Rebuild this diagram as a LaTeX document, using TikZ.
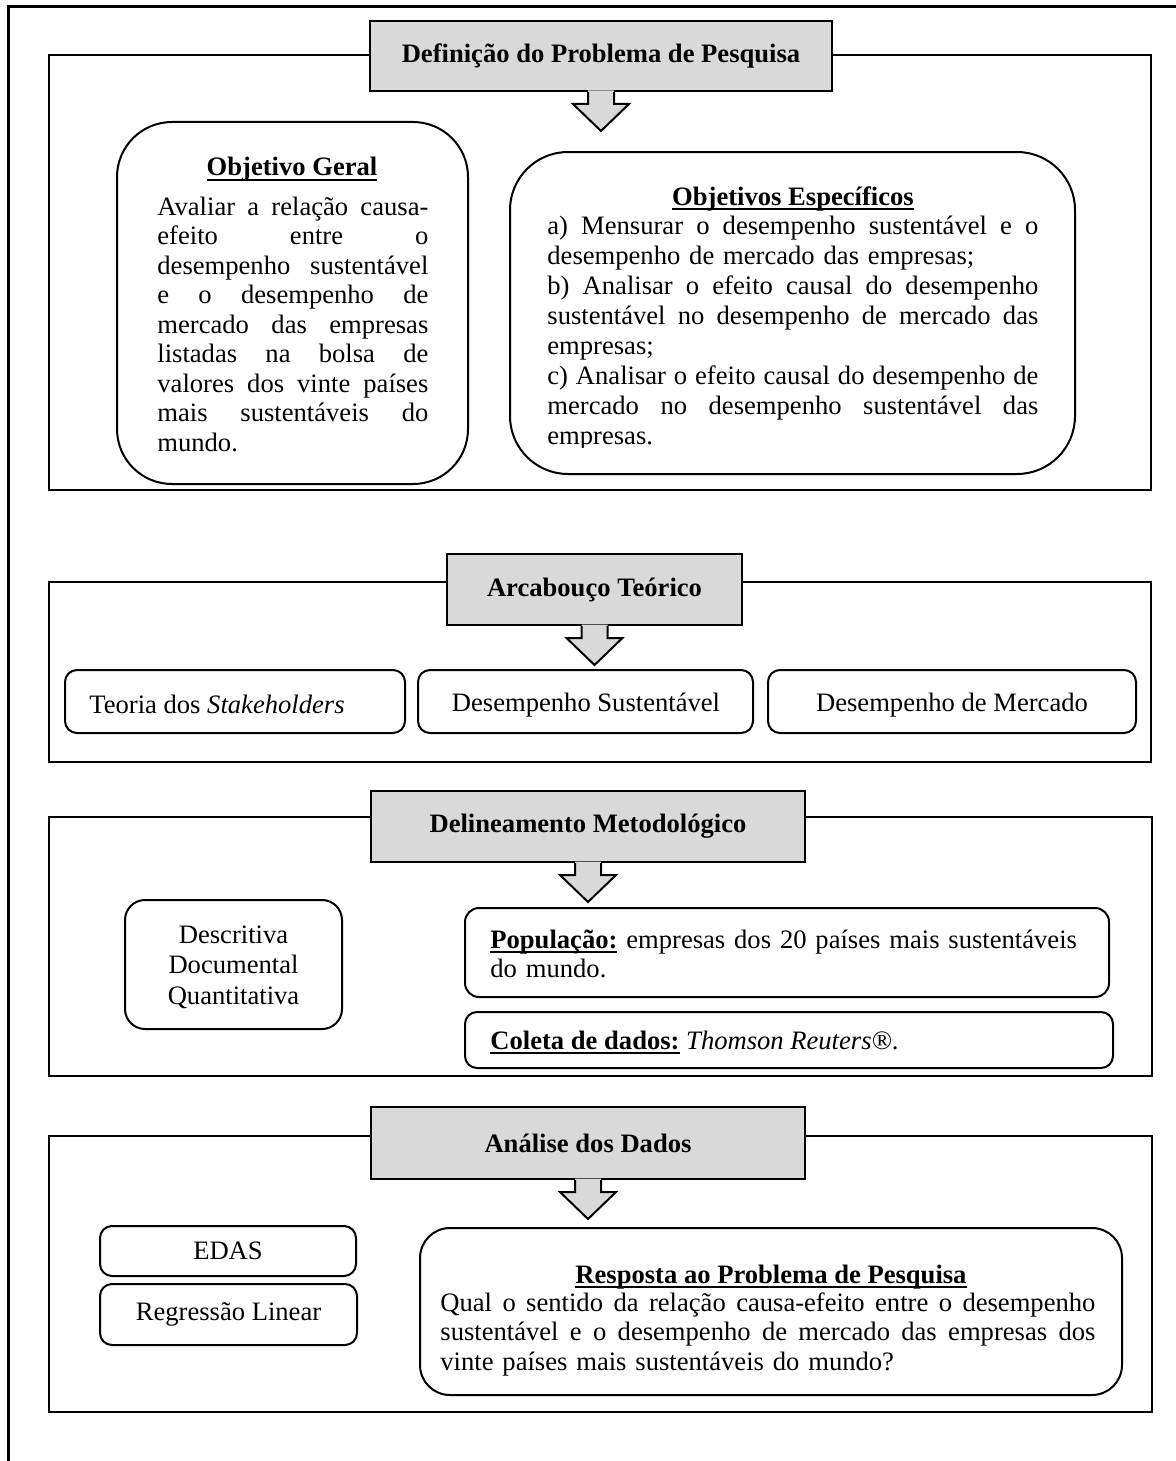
\documentclass[tikz,border=0pt]{standalone}
\usepackage{fontspec}
\setmainfont{Liberation Serif}
\usetikzlibrary{fit,calc}
\definecolor{tgray}{HTML}{D9D9D9}
\tikzset{
  frameline/.style={line width=1.5pt},
  secbox/.style={draw, line width=1pt, inner sep=0pt},
  titlebox/.style={draw, fill=tgray, line width=1pt, inner sep=0pt},
  rbox/.style={draw, line width=1pt, inner sep=0pt, rounded corners=#1},
  rbox/.default=6pt,
  txt/.style={inner sep=0pt, font=\fontsize{13.3pt}{14.75pt}\selectfont},
  ttl/.style={inner sep=0pt, font=\fontsize{13.3pt}{14.75pt}\selectfont\bfseries},
}
\newcommand{\jl}[2]{\makebox[#1][l]{#2}}
\newsavebox\ulbox
\newcommand{\ulx}[1]{\sbox\ulbox{#1}\rlap{\rule[-2.3pt]{\wd\ulbox}{0.9pt}}\usebox\ulbox}
\newcommand{\blockarrow}[1]{%
  \fill[tgray] ($(#1.south)+(-13,-1.5)$) -- ++(0,13.5) -- ++(-15,0) -- ++(28,27) -- ++(28,-27) -- ++(-15,0) -- ++(0,-13.5) -- cycle;
  \draw[line width=1pt] ($(#1.south)+(-13,0)$) -- ++(0,12) -- ++(-15,0) -- ++(28,27) -- ++(28,-27) -- ++(-15,0) -- ++(0,-12);}
\begin{document}
\begin{tikzpicture}[x=0.5pt,y=-0.5pt]
\useasboundingbox (0,0) rectangle (1175,1461);
\coordinate (fa) at (8,1470);
\coordinate (fb) at (8,7);
\coordinate (fc) at (1180,7);
\draw[frameline] (fa) -- (fb) -- (fc);

% ---------- Section 1
\node[secbox, fit={(49,55) (1151,490)}] (s1) {};
\node[titlebox, fit={(370,21) (832,91)}] (t1) {};
\node[ttl] (t1txt) at (t1.center) {Definição do Problema de Pesquisa};
\blockarrow{t1}

\node[rbox=27.5pt, fit={(117,122) (468,484)}] (og) {};
\node[ttl, anchor=base] (ogh) at (292,176) {\ulx{Objetivo Geral}};
\node[txt, anchor=base west, text width=136pt, align=left] (ogb) at (157,215) {%
\jl{135.5pt}{Avaliar\hfill a\hfill relação\hfill causa-}\\
\jl{135.5pt}{efeito\hfill entre\hfill o}\\
\jl{135.5pt}{desempenho\hfill sustentável}\\
\jl{135.5pt}{e\hfill o\hfill desempenho\hfill de}\\
\jl{135.5pt}{mercado\hfill das\hfill empresas}\\
\jl{135.5pt}{listadas\hfill na\hfill bolsa\hfill de}\\
\jl{135.5pt}{valores\hfill dos\hfill vinte\hfill países}\\
\jl{135.5pt}{mais\hfill sustentáveis\hfill do}\\
mundo.};

\node[rbox=29pt, fit={(510,152) (1075,474)}] (oe) {};
\node[ttl, anchor=base] (oeh) at (793,205) {\ulx{Objetivos Específicos}};
\begin{scope}
\clip (510,150) rectangle (1075,447);
\node[txt, font=\fontsize{13.3pt}{15pt}\selectfont, anchor=base west, text width=246pt, align=left] (oeb) at (547,234) {%
\jl{245.5pt}{a)\hfill Mensurar\hfill o\hfill desempenho\hfill sustentável\hfill e\hfill o}\\
desempenho de mercado das empresas;\\
\jl{245.5pt}{b)\hfill Analisar\hfill o\hfill efeito\hfill causal\hfill do\hfill desempenho}\\
\jl{245.5pt}{sustentável\hfill no\hfill desempenho\hfill de\hfill mercado\hfill das}\\
empresas;\\
\jl{245.5pt}{c)\hfill Analisar\hfill o\hfill efeito\hfill causal\hfill do\hfill desempenho\hfill de}\\
\jl{245.5pt}{mercado\hfill no\hfill desempenho\hfill sustentável\hfill das}\\
empresas.};
\end{scope}

% ---------- Section 2
\node[secbox, fit={(49,582) (1151,762)}] (s2) {};
\node[titlebox, fit={(447,554) (742,625)}] (t2) {};
\node[ttl] (t2txt) at (t2.center) {Arcabouço Teórico};
\blockarrow{t2}
\node[rbox, fit={(65,670) (405,733)}] (b21) {};
\node[txt, anchor=base west] (b21t) at (89,713) {Teoria dos \textit{Stakeholders}};
\node[rbox, fit={(418,670) (753,733)}] (b22) {};
\node[txt, anchor=base] (b22t) at (586,711) {Desempenho Sustentável};
\node[rbox, fit={(768,670) (1136,733)}] (b23) {};
\node[txt, anchor=base] (b23t) at (952,711) {Desempenho de Mercado};

% ---------- Section 3
\node[secbox, fit={(49,817) (1152,1076)}] (s3) {};
\node[titlebox, fit={(371,791) (805,862)}] (t3) {};
\node[ttl] (t3txt) at (t3.center) {Delineamento Metodológico};
\blockarrow{t3}
\node[rbox=10pt, fit={(125,900) (342,1029)}] (b31) {};
\node[txt, font=\fontsize{13.3pt}{15.25pt}\selectfont, align=center, text width=100pt, anchor=base] (b31t) at (233.5,943) {Descritiva\\Documental\\Quantitativa};
\node[rbox=7pt, fit={(465,908) (1109,997)}] (b32) {};
\node[txt, anchor=base west, text width=300pt, align=left] (b32t) at (490,948) {\ulx{\textbf{População:}} empresas dos 20 países mais sustentáveis\\do mundo.};
\node[rbox, fit={(465,1012) (1113,1068)}] (b33) {};
\node[txt, anchor=base west] (b33t) at (490,1049) {\ulx{\textbf{Coleta de dados:}} \textit{Thomson Reuters®}.};

% ---------- Section 4
\node[secbox, fit={(49,1136) (1152,1412)}] (s4) {};
\node[titlebox, fit={(371,1107) (805,1179)}] (t4) {};
\node[ttl] (t4txt) at (t4.center) {Análise dos Dados};
\blockarrow{t4}
\node[rbox, fit={(100,1226) (356,1276)}] (b41) {};
\node[txt] (b41t) at (b41.center) {EDAS};
\node[rbox, fit={(100,1284) (357,1345)}] (b42) {};
\node[txt] (b42t) at (b42.center) {Regressão Linear};
\node[rbox=15pt, fit={(420,1228) (1122,1395)}] (b43) {};
\node[ttl, anchor=base] (b43h) at (771,1283) {\ulx{Resposta ao Problema de Pesquisa}};
\node[txt, anchor=base west, text width=328pt, align=left] (b43t) at (440,1311) {%
\jl{327.5pt}{Qual\hfill o\hfill sentido\hfill da\hfill relação\hfill causa-efeito\hfill entre\hfill o\hfill desempenho}\\
\jl{327.5pt}{sustentável\hfill e\hfill o\hfill desempenho\hfill de\hfill mercado\hfill das\hfill empresas\hfill dos}\\
vinte países mais sustentáveis do mundo?};
\end{tikzpicture}
\end{document}
